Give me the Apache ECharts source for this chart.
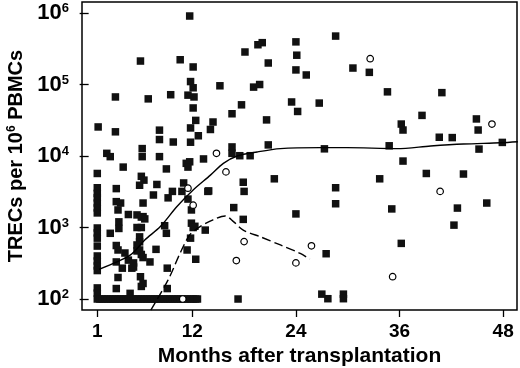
<!DOCTYPE html>
<html>
<head>
<meta charset="utf-8">
<script src="https://cdn.jsdelivr.net/npm/echarts@6/dist/echarts.min.js"></script>
<style>
  html, body { margin: 0; padding: 0; background: #fff; }
  #chart { width: 520px; height: 368px; }
</style>
</head>
<body>
<div id="chart"></div>
<script>
// months after transplantation vs TRECs per 10^6 PBMCs (log scale)
const xTicks = [1, 12, 24, 36, 48];
const yTicks = [100, 1000, 10000, 100000, 1000000];

// filled squares
const filledPoints = [
  [11.7, 908000], [6.0, 213000], [10.6, 222000], [12.1, 176000], [18.1, 285000],
  [19.6, 360000], [20.1, 385000], [20.8, 200000], [24.0, 395000], [24.1, 257000],
  [24.0, 160000], [11.8, 110000], [12.1, 90000], [15.2, 96000], [19.1, 92000],
  [19.8, 100000], [3.1, 67000], [6.9, 63000], [9.5, 72000], [11.5, 71000],
  [12.2, 67000], [12.1, 47000], [17.7, 52000], [16.6, 39000], [23.5, 57000],
  [24.2, 42000], [1.1, 25500], [3.1, 21800], [8.2, 23000], [12.4, 31500],
  [14.4, 29900], [11.8, 24700], [14.1, 23500], [20.6, 32000], [8.2, 17000],
  [9.8, 15700], [11.8, 15600], [12.7, 19200], [6.2, 12700], [16.6, 13400],
  [20.8, 14300],
  [25.2, 136000], [28.6, 476000], [30.6, 170000], [32.5, 148000], [34.6, 79000],
  [40.9, 77000], [26.7, 55000], [38.6, 37000], [36.2, 28000], [36.4, 23100],
  [44.9, 33000], [45.1, 23100], [40.6, 18300], [42.1, 18100], [27.3, 12600],
  [34.8, 13900], [45.2, 12500], [47.9, 15500],
  [36.4, 8500], [39.1, 5700], [43.4, 5600], [33.7, 4800], [28.6, 3600],
  [28.6, 2150], [35.1, 1820], [42.7, 1870], [46.1, 2200], [42.3, 1080],
  [24.0, 1550], [36.2, 600], [27.5, 430], [27.0, 117], [27.7, 101],
  [29.5, 117], [29.5, 101],
  [16.6, 10900], [17.5, 10100], [18.7, 10100], [13.3, 9100], [17.9, 4300],
  [18.0, 3200], [21.5, 4800], [13.9, 3250], [16.8, 1900], [17.9, 1300],
  [12.3, 1040], [13.5, 920], [12.4, 360], [17.3, 100],
  [11.3, 7900], [11.7, 8300], [11.5, 7000], [9.0, 6600], [8.2, 9800],
  [6.2, 9800], [4.0, 7000], [2.1, 10900], [2.5, 9800], [1.0, 5700],
  [6.1, 5200], [6.4, 4600], [5.9, 3900], [7.9, 4000], [3.2, 3500],
  [9.7, 3200], [10.8, 3200], [11.0, 4200], [9.2, 2600], [7.5, 2850],
  [13.8, 3200], [11.5, 2500], [11.9, 1760], [3.2, 2300], [3.7, 2200],
  [3.4, 1760], [6.3, 2200], [6.3, 1420], [4.6, 1520], [5.6, 1500],
  [6.1, 1400], [6.5, 1320], [3.5, 1200], [3.5, 970], [2.5, 830],
  [6.1, 1000], [8.8, 1060], [9.0, 830], [11.9, 1150], [12.1, 1000],
  [11.8, 710], [11.4, 485], [5.9, 740], [5.9, 630], [5.6, 570],
  [3.2, 560], [3.4, 485], [7.8, 495], [5.9, 485], [6.1, 420],
  [3.2, 330], [4.6, 350], [5.2, 320], [3.9, 270], [5.0, 270],
  [7.1, 330], [6.3, 380], [9.1, 270], [3.4, 200], [6.0, 205],
  [3.2, 140], [4.8, 120], [6.1, 150], [6.3, 165], [9.1, 140],
  [5.6, 1000], [5.6, 470], [5.2, 280], [4.2, 440],
  [1.0, 3600], [1.0, 3000], [1.0, 2600], [1.0, 2200], [1.0, 1880],
  [1.0, 1600], [1.0, 985], [1.0, 840], [1.0, 710], [1.0, 550],
  [1.0, 400], [1.0, 340], [1.0, 290], [1.0, 250], [1.0, 143], [1.0, 121]
];

// squares sitting on the detection limit (100) along the bottom
const detectionLimit = 100;
const limitMonths = [1.0, 1.3, 1.6, 1.9, 2.2, 2.5, 2.8, 3.1, 3.4, 3.7, 4.0, 4.3,
  4.6, 4.9, 5.2, 5.5, 5.8, 6.1, 6.4, 6.7, 7.0, 7.3, 7.6, 7.9, 8.2, 8.5, 8.8,
  9.1, 9.4, 9.7, 10.0, 10.3, 10.6, 10.9, 11.2, 11.5, 11.8, 12.1, 12.4, 12.6];

// open circles
const openPoints = [
  [14.8, 10900], [15.9, 6000], [11.5, 3550], [12.1, 2050], [18.0, 635],
  [17.1, 345], [24.0, 320], [25.8, 555], [35.2, 205], [40.7, 3200],
  [32.6, 230000], [46.7, 28000], [10.9, 100]
];

// smoothed fits
const solidFit = [
  [1.2, 260], [4.8, 410], [6.5, 670], [8.3, 1030], [10.2, 1950], [12.1, 3350],
  [14.1, 5400], [15.6, 7900], [17.2, 10000], [19.5, 11400], [22.2, 12700],
  [26.8, 13100], [29.9, 13100], [35.7, 12700], [39.6, 13800], [43.4, 14700],
  [47.7, 15300], [49.7, 15800]
];
const dashedFit = [
  [7.2, 70], [9.2, 185], [10.6, 440], [11.7, 785], [12.9, 1030], [14.4, 1280],
  [15.8, 1450], [16.8, 1200], [17.9, 920], [19.9, 740], [22.2, 570],
  [24.5, 435], [25.6, 360]
];

const FONT = '"Liberation Sans", Arial, Helvetica, sans-serif';

const chart = echarts.init(document.getElementById('chart'), null, { renderer: 'canvas' });

const bottomRow = limitMonths.map(m => [m, detectionLimit]);

const option = {
  animation: false,
  backgroundColor: '#fff',
  grid: {
    left: 82, right: 3, top: 2, bottom: 58,
    show: true, borderColor: '#000', borderWidth: 1.5,
    outerBoundsMode: 'none'
  },
  xAxis: {
    type: 'value',
    min: -0.77,
    max: 49.6,
    name: 'Months after transplantation',
    nameLocation: 'middle',
    nameGap: 36,
    nameTextStyle: { fontFamily: FONT, fontWeight: 'bold', fontSize: 21, color: '#000' },
    axisLine: { show: false },
    axisTick: { show: true, inside: false, length: 7, customValues: xTicks, lineStyle: { color: '#000', width: 1.3 } },
    axisLabel: { customValues: xTicks, margin: 12, fontFamily: FONT, fontWeight: 'bold', fontSize: 19, color: '#000' },
    splitLine: { show: false }
  },
  yAxis: {
    type: 'log',
    logBase: 10,
    min: 70.2,
    max: 1426000,
    name: 'TRECs per 10{sup|6} PBMCs',
    nameLocation: 'middle',
    nameGap: 56,
    nameTextStyle: {
      fontFamily: FONT, fontWeight: 'bold', fontSize: 20, color: '#000',
      rich: { sup: { fontFamily: FONT, fontWeight: 'bold', fontSize: 12, color: '#000', verticalAlign: 'top' } }
    },
    axisLine: { show: false },
    axisTick: { show: true, inside: false, length: 9, customValues: yTicks, lineStyle: { color: '#000', width: 1.3 } },
    axisLabel: {
      customValues: yTicks,
      margin: 13,
      formatter: v => '{b|10}{s|' + Math.round(Math.log10(v)) + '}',
      rich: {
        b: { fontFamily: FONT, fontWeight: 'bold', fontSize: 22, color: '#000' },
        s: { fontFamily: FONT, fontWeight: 'bold', fontSize: 13, color: '#000', verticalAlign: 'top' }
      }
    },
    splitLine: { show: false }
  },
  series: [
    {
      type: 'scatter',
      symbol: 'rect',
      symbolSize: 7.5,
      itemStyle: { color: '#111', opacity: 1 },
      emphasis: { disabled: true },
      data: filledPoints.concat(bottomRow)
    },
    {
      type: 'line',
      data: solidFit,
      smooth: 0.3,
      showSymbol: false,
      lineStyle: { color: '#000', width: 1.4 },
      emphasis: { disabled: true }
    },
    {
      type: 'line',
      data: dashedFit,
      smooth: 0.3,
      showSymbol: false,
      lineStyle: { color: '#000', width: 1.4, type: [9, 4] },
      emphasis: { disabled: true }
    },
    {
      type: 'scatter',
      symbol: 'circle',
      symbolSize: 6.5,
      itemStyle: { color: '#fff', borderColor: '#000', borderWidth: 1.2, opacity: 1 },
      emphasis: { disabled: true },
      data: openPoints
    }
  ]
};

chart.setOption(option);
</script>
</body>
</html>
